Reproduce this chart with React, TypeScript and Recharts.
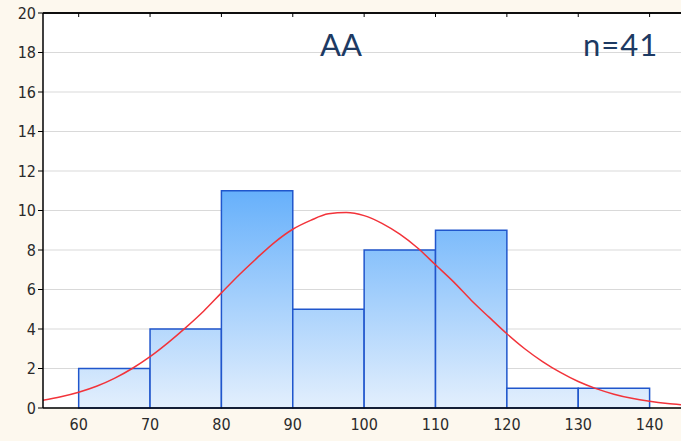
import {
  ComposedChart,
  Line,
  XAxis,
  YAxis,
  CartesianGrid,
  ReferenceArea,
  ReferenceLine,
} from "recharts";

// histogram bins (lower edge, upper edge) and counts
const binStarts = [60, 70, 80, 90, 100, 110, 120, 130];
const binEnds = [70, 80, 90, 100, 110, 120, 130, 140];
const binCounts = [2, 4, 11, 5, 8, 9, 1, 1];

// fitted normal curve, sampled along x
const curveX = [
  55, 57.5, 60, 62.5, 65, 67.5, 70, 72.5, 75, 77.5, 80, 82.5, 85, 87.5, 90,
  92.5, 95, 97.5, 100, 102.5, 105, 107.5, 110, 112.5, 115, 117.5, 120, 122.5,
  125, 127.5, 130, 132.5, 135, 137.5, 140, 142.5, 144.4,
];
const curveY = [
  0.39, 0.57, 0.8, 1.1, 1.5, 2.0, 2.6, 3.3, 4.07, 4.9, 5.83, 6.75, 7.6, 8.4,
  9.05, 9.5, 9.83, 9.9, 9.74, 9.35, 8.8, 8.1, 7.25, 6.4, 5.46, 4.6, 3.76,
  3.0, 2.35, 1.8, 1.34, 0.98, 0.7, 0.49, 0.34, 0.23, 0.17,
];

const xTicks = [60, 70, 80, 90, 100, 110, 120, 130, 140];
const yTicks = [0, 2, 4, 6, 8, 10, 12, 14, 16, 18, 20];

const curveData = curveX.map((x, i) => ({ x, y: curveY[i] }));

const W = 681;
const H = 441;
const tickStyle = {
  fill: "#2a2a2a",
  fontSize: 16,
  fontFamily: "'Liberation Sans Narrow', 'DejaVu Sans Condensed', Arial, sans-serif",
};

export default function App() {
  return (
    <div
      style={{
        position: "absolute",
        left: 0,
        top: 0,
        width: W,
        height: H,
        background: "#fdf8ee",
        overflow: "hidden",
      }}
    >
      <ComposedChart
        width={W}
        height={H}
        data={curveData}
        margin={{ top: 13, right: 0, bottom: 0, left: 0 }}
      >
        <defs>
          <linearGradient
            id="barFill"
            gradientUnits="userSpaceOnUse"
            x1="0"
            y1="190"
            x2="0"
            y2="408"
          >
            <stop offset="0%" stopColor="#66b0fb" />
            <stop offset="100%" stopColor="#e3effd" />
          </linearGradient>
        </defs>
        <CartesianGrid
          vertical={false}
          stroke="#d9d9d9"
          strokeWidth={1.2}
          fill="#ffffff"
        />
        <XAxis
          dataKey="x"
          type="number"
          domain={[55, 144.4]}
          ticks={xTicks}
          allowDataOverflow
          height={33}
          tickLine={false}
          tickSize={6}
          tickMargin={5}
          axisLine={{ stroke: "#000", strokeWidth: 1.5 }}
          tick={tickStyle}
        />
        {/* top frame edge with short inward ticks */}
        <XAxis
          xAxisId="top"
          orientation="top"
          dataKey="x"
          type="number"
          domain={[55, 144.4]}
          ticks={xTicks}
          allowDataOverflow
          height={1}
          mirror
          tickSize={4}
          tick={() => <g />}
          tickLine={{ stroke: "#000", strokeWidth: 1 }}
          axisLine={{ stroke: "#000", strokeWidth: 1.5 }}
        />
        <YAxis
          type="number"
          domain={[0, 20]}
          ticks={yTicks}
          width={43}
          tickSize={5}
          tickMargin={2}
          interval={0}
          tickLine={{ stroke: "#000" }}
          axisLine={{ stroke: "#000", strokeWidth: 1.5 }}
          tick={tickStyle}
        />
        {binStarts.map((start, i) => (
          <ReferenceArea
            key={start}
            x1={start}
            x2={binEnds[i]}
            y1={0}
            y2={binCounts[i]}
            fill="url(#barFill)"
            fillOpacity={1}
            stroke="#2056cc"
            strokeWidth={1.5}
            strokeOpacity={1}
          />
        ))}
        <ReferenceLine y={20} stroke="#000" strokeWidth={1.5} />
        <Line
          xAxisId="top"
          dataKey="y"
          stroke="none"
          dot={false}
          legendType="none"
          isAnimationActive={false}
        />
        <Line
          type="monotone"
          dataKey="y"
          stroke="#f2333a"
          strokeWidth={1.5}
          dot={false}
          isAnimationActive={false}
        />
      </ComposedChart>
      <div
        style={{
          position: "absolute",
          left: 320,
          top: 25,
          fontFamily: "Lato, sans-serif",
          fontSize: 31,
          color: "#1d3a63",
        }}
      >
        AA
      </div>
      <div
        style={{
          position: "absolute",
          left: 583,
          top: 25,
          fontFamily: "Lato, sans-serif",
          fontSize: 31,
          letterSpacing: 1,
          color: "#1d3a63",
        }}
      >
        n=41
      </div>
    </div>
  );
}
